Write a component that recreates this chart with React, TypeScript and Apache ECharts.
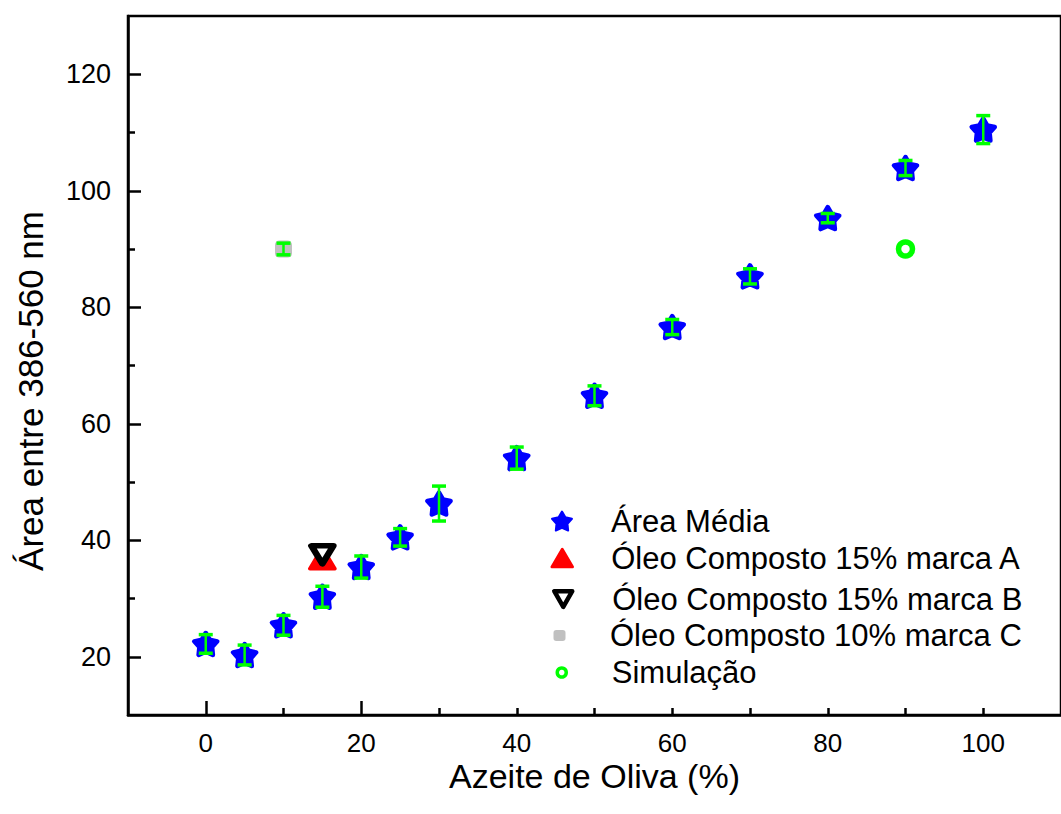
import React, { useEffect, useRef } from "react";
import * as echarts from "echarts";

// ---- data ----
const xValues = [0, 5, 10, 15, 20, 25, 30, 40, 50, 60, 70, 80, 90, 100];
const areaMedia = [22.2, 20.3, 25.4, 30.3, 35.4, 40.5, 46.3, 54.1, 64.8, 76.6, 85.3, 95.3, 103.9, 110.5];
const areaErr = [1.6, 1.7, 1.7, 1.8, 1.9, 1.5, 3.0, 1.9, 1.7, 1.3, 1.3, 0.8, 1.3, 2.4];
const marcaA = [[15, 36.9]];
const marcaB = [[15, 37.5]];
const marcaC = [[10, 90]];
const marcaCErr = [1.0];
const simulacao = [[90, 90]];

const xLabelValues = [0, 20, 40, 60, 80, 100];
const yLabelValues = [20, 40, 60, 80, 100, 120];
const xLongTicks = [0, 20];
const xShortTicks = [10, 30, 40, 50, 60, 70, 80, 90, 100];
const yMinorTicks = [30, 50, 70, 90, 110];

const seriesNames = [
  "Área Média",
  "Óleo Composto 15% marca A",
  "Óleo Composto 15% marca B",
  "Óleo Composto 10% marca C",
  "Simulação",
];

const FONT = '"Liberation Sans", Arial, Helvetica, sans-serif';
// five-pointed star, fairly plump (inner radius ~0.55 of outer)
const STAR =
  "path://M100,0 L132.3,55.5 L195.1,69.1 L152.3,117 L158.8,180.9 L100,155 L41.2,180.9 L47.7,117 L4.9,69.1 L67.7,55.5 Z";
const DOWN_TRI = "path://M0,0 L100,0 L50,87 Z";

const BLUE = "#0000ff";
const RED = "#ff0000";
const GREEN = "#00ff00";
const GRAY = "#c0c0c0";

function legendRow(name: string, icon: string, w: number, h: number, cx: number, cy: number, itemStyle: any) {
  const left = cx - w / 2;
  return {
    show: true,
    orient: "vertical",
    left,
    top: cy - 16,
    padding: 0,
    itemWidth: w,
    itemHeight: h,
    selectedMode: false,
    data: [{ name, icon, itemStyle: { opacity: 1, ...itemStyle } }],
    textStyle: {
      fontSize: 31,
      lineHeight: 32,
      color: "#000",
      fontFamily: FONT,
      padding: [0, 0, 0, 610 - left - w - 5],
    },
  };
}

export default function App() {
  const ref = useRef<HTMLDivElement>(null);

  useEffect(() => {
    if (!ref.current) return;
    const chart = echarts.init(ref.current, undefined, { renderer: "svg" });

    const errData = xValues
      .map((x, i) => [x, areaMedia[i], areaErr[i]])
      .concat(marcaC.map((p, i) => [p[0], p[1], marcaCErr[i]]));

    const axisLineStyle = { color: "#000", width: 2.5 };

    const option: any = {
      animation: false,
      backgroundColor: "#fff",
      textStyle: { fontFamily: FONT },
      grid: {
        left: 128,
        top: 16,
        right: -10,
        bottom: 99,
        show: true,
        borderColor: "#000",
        borderWidth: 2.5,
      },
      xAxis: [
        {
          type: "value",
          min: -10,
          max: 110,
          position: "bottom",
          name: "Azeite de Oliva (%)",
          nameLocation: "middle",
          nameGap: 46,
          nameMoveOverlap: false,
          nameTextStyle: { fontSize: 34, lineHeight: 30, color: "#000", fontFamily: FONT },
          axisLine: { show: true, onZero: false, lineStyle: axisLineStyle },
          axisTick: { show: true, inside: true, length: 14, lineStyle: axisLineStyle, customValues: xLongTicks },
          axisLabel: { show: true, customValues: xLabelValues, margin: 15, fontSize: 26, lineHeight: 26, color: "#000", fontFamily: FONT },
          splitLine: { show: false },
        },
        {
          type: "value",
          min: -10,
          max: 110,
          position: "bottom",
          axisLine: { show: false, onZero: false },
          axisTick: { show: true, inside: true, length: 7, lineStyle: axisLineStyle, customValues: xShortTicks },
          axisLabel: { show: false },
          splitLine: { show: false },
        },
      ],
      yAxis: [
        {
          type: "value",
          min: 10,
          max: 130,
          position: "left",
          name: "Área entre 386-560 nm",
          nameLocation: "middle",
          nameGap: 80,
          nameMoveOverlap: false,
          nameTextStyle: { fontSize: 35, color: "#000", fontFamily: FONT, padding: [0, 51, 0, 0] },
          axisLine: { show: true, onZero: false, lineStyle: axisLineStyle },
          axisTick: { show: true, inside: true, length: 13, lineStyle: axisLineStyle, customValues: yLabelValues },
          axisLabel: { show: true, customValues: yLabelValues, margin: 17, fontSize: 27, color: "#000", fontFamily: FONT },
          splitLine: { show: false },
        },
        {
          type: "value",
          min: 10,
          max: 130,
          position: "left",
          axisLine: { show: false, onZero: false },
          axisTick: { show: true, inside: true, length: 7, lineStyle: axisLineStyle, customValues: yMinorTicks },
          axisLabel: { show: false },
          splitLine: { show: false },
        },
      ],
      legend: [
        legendRow(seriesNames[0], STAR, 20, 19, 561, 521, { color: BLUE, borderColor: BLUE, borderWidth: 2, borderJoin: "round" }),
        legendRow(seriesNames[1], "triangle", 21, 18, 561, 558, { color: RED, borderColor: RED, borderWidth: 2.5, borderJoin: "round" }),
        legendRow(seriesNames[2], DOWN_TRI, 18, 16, 561, 599, { color: "#fff", borderColor: "#000", borderWidth: 4.5, borderJoin: "round" }),
        legendRow(seriesNames[3], "roundRect", 12, 11, 559.5, 635.5, { color: GRAY, borderWidth: 0 }),
        legendRow(seriesNames[4], "circle", 9, 9, 560, 672.5, { color: "#fff", borderColor: GREEN, borderWidth: 3.5 }),
      ],
      series: [
        {
          name: seriesNames[0],
          type: "scatter",
          data: xValues.map((x, i) => [x, areaMedia[i]]),
          symbol: STAR,
          symbolSize: [23, 22],
          itemStyle: { color: BLUE, borderColor: BLUE, borderWidth: 4.5, borderJoin: "round", opacity: 1 },
          silent: true,
          z: 2,
        },
        {
          name: seriesNames[1],
          type: "scatter",
          data: marcaA,
          symbol: "triangle",
          symbolSize: [25, 21],
          itemStyle: { color: RED, borderColor: RED, borderWidth: 3.5, borderJoin: "round", opacity: 1 },
          silent: true,
          z: 3,
        },
        {
          name: seriesNames[2],
          type: "scatter",
          data: marcaB,
          symbol: DOWN_TRI,
          symbolSize: [22, 18],
          itemStyle: { color: "#fff", borderColor: "#000", borderWidth: 6, borderJoin: "round", opacity: 1 },
          silent: true,
          z: 4,
        },
        {
          name: seriesNames[3],
          type: "scatter",
          data: marcaC,
          symbol: "roundRect",
          symbolSize: 17,
          itemStyle: { color: GRAY, opacity: 1 },
          silent: true,
          z: 3,
        },
        {
          name: seriesNames[4],
          type: "scatter",
          data: simulacao,
          symbol: "circle",
          symbolSize: 14,
          itemStyle: { color: "#fff", borderColor: GREEN, borderWidth: 5.5, opacity: 1 },
          silent: true,
          z: 3,
        },
        {
          name: "errorbars",
          type: "custom",
          data: errData,
          encode: { x: 0, y: 1 },
          silent: true,
          z: 10,
          renderItem: (params: any, api: any) => {
            const x = api.value(0);
            const y = api.value(1);
            const e = api.value(2);
            const top = api.coord([x, y + e]);
            const bot = api.coord([x, y - e]);
            const hw = 7;
            const st = { stroke: GREEN, lineWidth: 2.5 };
            const cap = { stroke: GREEN, lineWidth: 3.5 };
            return {
              type: "group",
              children: [
                { type: "line", shape: { x1: top[0], y1: top[1], x2: bot[0], y2: bot[1] }, style: st },
                { type: "line", shape: { x1: top[0] - hw, y1: top[1], x2: top[0] + hw, y2: top[1] }, style: cap },
                { type: "line", shape: { x1: bot[0] - hw, y1: bot[1], x2: bot[0] + hw, y2: bot[1] }, style: cap },
              ],
            };
          },
        },
      ],
    };

    chart.setOption(option);
    return () => chart.dispose();
  }, []);

  return (
    <div
      ref={ref}
      style={{ position: "fixed", left: 0, top: 0, width: 1061, height: 814, background: "#fff" }}
    />
  );
}
